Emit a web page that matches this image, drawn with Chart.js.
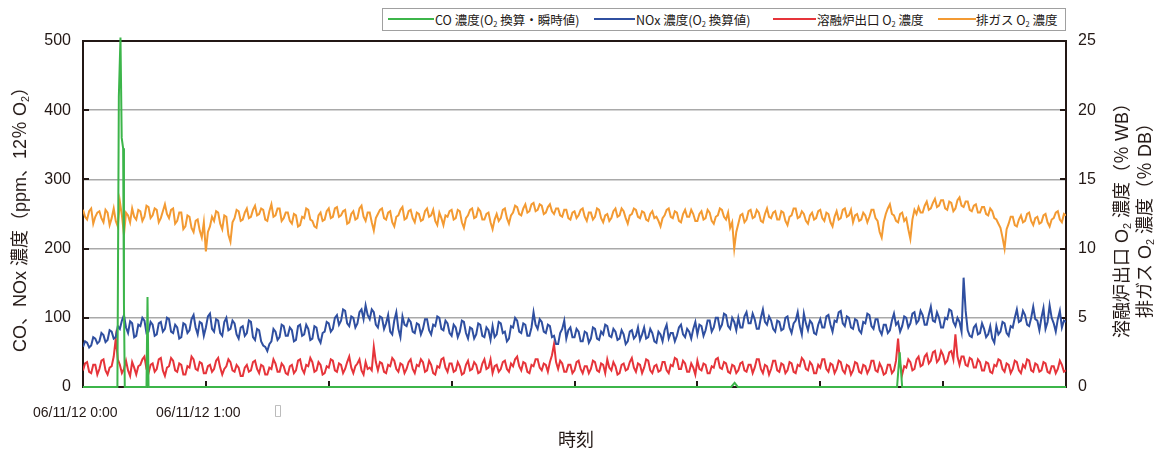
<!DOCTYPE html>
<html lang="ja">
<head>
<meta charset="utf-8">
<title>CO・NOx 濃度と O2 濃度の推移</title>
<script src="https://cdn.jsdelivr.net/npm/chart.js@4.4.1/dist/chart.umd.min.js"></script>
<style>
body{margin:0;background:#fff;}
#wrap{position:relative;width:1161px;height:453px;font-family:"Liberation Sans","Noto Sans CJK JP",sans-serif;color:#231815;}
#wrap canvas{position:absolute;left:0;top:0;}
.lbl{position:absolute;white-space:nowrap;line-height:1;}
.rot{transform:translate(-50%,-50%) rotate(-90deg);text-align:center;}
#legend{position:absolute;left:382px;top:8px;width:684px;height:23px;border:1px solid #a0a0a0;box-sizing:border-box;font-family:"Noto Sans CJK JP",sans-serif;font-size:12.5px;background:#fff;}
#legend span.ln{position:absolute;top:9px;height:2px;}
#legend span.tx{position:absolute;top:1px;line-height:19px;white-space:nowrap;}
sub{font-size:0.6em;vertical-align:-0.25em;line-height:0;}
</style>
</head>
<body>
<div id="wrap">
  <canvas id="chart" width="1161" height="453"></canvas>
  <div id="legend">
    <span class="ln" style="left:5px;width:46px;background:#3cb54a"></span><span class="tx" style="left:52px">CO 濃度(O<sub>2</sub> 換算・瞬時値)</span>
    <span class="ln" style="left:211px;width:41px;background:#2f4fa0"></span><span class="tx" style="left:253px">NOx 濃度(O<sub>2</sub> 換算値)</span>
    <span class="ln" style="left:390px;width:43px;background:#e6343a"></span><span class="tx" style="left:434px">溶融炉出口 O<sub>2</sub> 濃度</span>
    <span class="ln" style="left:555px;width:38px;background:#f39a32"></span><span class="tx" style="left:593px">排ガス O<sub>2</sub> 濃度</span>
  </div>
  <div class="lbl rot" style="left:20px;top:215px;font-size:18px">CO、NOx 濃度（ppm、12％ O<sub>2</sub>）</div>
  <div class="lbl rot" style="left:1134px;top:216px;font-size:18px;line-height:23px">溶融炉出口 O<sub>2</sub> 濃度（％ WB）<br>排ガス O<sub>2</sub> 濃度（％ DB）</div>
  <div class="lbl" style="left:33px;top:405px;font-size:14px">06/11/12 0:00</div>
  <div class="lbl" style="left:156px;top:405px;font-size:14px">06/11/12 1:00</div>
  <div class="lbl" style="left:274px;top:403px;font-size:15px;color:#b0b0b0;font-family:'DejaVu Sans'">▯</div>
  <div class="lbl" style="left:558px;top:429px;font-size:18px;font-family:'Noto Sans CJK JP'">時刻</div>
</div>
<script>
// logged every minute, 0:00 - 8:00
const SAMPLE_STEP = 1;

// CO (O2 換算・瞬時値), ppm - mostly zero with a few spikes
const coTimes  = [0, 16.8, 17.5, 18.3, 18.9, 19.6, 20.0, 20.4, 31.0, 31.5, 32.0, 316.5, 318.2, 319.8, 397.5, 398.8, 400.0, 480];
const coValues = [0, 0, 420, 505, 360, 345, 120, 0, 0, 130, 0, 0, 6, 0, 0, 50, 0, 0];

// NOx (O2 換算値), ppm
const noxValues = [
  58, 66, 64, 57, 60, 72, 70, 63, 66, 78, 75, 65, 68, 82, 80, 70, 72, 88, 84, 96,
  104, 86, 78, 95, 92, 72, 74, 90, 88, 100, 96, 78, 80, 94, 90, 74, 76, 92, 94, 80,
  84, 100, 98, 80, 78, 90, 86, 70, 72, 92, 90, 78, 82, 98, 104, 86, 76, 94, 92, 74,
  86, 102, 106, 84, 80, 98, 96, 78, 74, 94, 100, 82, 84, 96, 92, 76, 70, 86, 88, 74,
  78, 96, 94, 72, 68, 84, 82, 66, 60, 58, 52, 62, 66, 84, 80, 68, 72, 90, 88, 74,
  74, 86, 82, 66, 68, 88, 90, 74, 76, 90, 84, 68, 70, 88, 86, 70, 64, 78, 80, 94,
  92, 80, 84, 100, 104, 90, 96, 112, 110, 92, 88, 102, 100, 86, 92, 108, 112, 98, 118, 104,
  98, 112, 108, 90, 86, 102, 100, 84, 92, 104, 80, 76, 96, 108, 84, 72, 102, 90, 88, 98,
  94, 80, 78, 92, 90, 76, 84, 98, 98, 82, 76, 90, 88, 102, 100, 84, 82, 96, 92, 78,
  74, 90, 86, 72, 80, 96, 94, 78, 70, 86, 84, 70, 76, 92, 90, 74, 72, 86, 82, 68,
  88, 72, 76, 94, 92, 78, 80, 66, 70, 88, 86, 100, 96, 80, 78, 92, 90, 74, 74, 86,
  108, 90, 84, 98, 94, 80, 78, 90, 88, 72, 74, 62, 62, 78, 84, 96, 70, 82, 86, 72,
  72, 84, 80, 66, 66, 80, 78, 64, 70, 86, 84, 70, 68, 80, 76, 90, 88, 74, 72, 84,
  80, 68, 70, 82, 76, 62, 66, 80, 82, 70, 74, 86, 68, 76, 86, 70, 72, 84, 78, 66,
  64, 80, 76, 66, 82, 90, 70, 78, 78, 66, 74, 86, 90, 76, 72, 84, 80, 70, 84, 94,
  76, 90, 88, 74, 82, 96, 96, 80, 86, 100, 100, 84, 90, 106, 104, 88, 84, 100, 94, 82,
  100, 86, 86, 102, 108, 92, 92, 106, 98, 84, 84, 100, 112, 94, 90, 102, 96, 84, 80, 96,
  94, 82, 84, 100, 102, 86, 78, 92, 96, 108, 88, 76, 106, 92, 82, 96, 92, 78, 76, 90,
  98, 86, 86, 102, 104, 90, 80, 96, 94, 108, 110, 92, 88, 102, 100, 86, 84, 98, 96, 82,
  78, 94, 92, 106, 104, 88, 84, 98, 98, 82, 76, 90, 90, 78, 82, 96, 106, 90, 94, 80,
  88, 102, 100, 86, 92, 106, 108, 92, 96, 110, 104, 90, 90, 104, 116, 96, 94, 108, 100, 86,
  86, 100, 98, 112, 110, 94, 88, 100, 94, 80, 158, 110, 82, 74, 72, 86, 90, 76, 78, 92,
  84, 72, 76, 88, 70, 64, 88, 76, 80, 94, 92, 78, 74, 88, 86, 100, 112, 94, 96, 110,
  104, 90, 88, 100, 116, 98, 96, 82, 100, 114, 84, 94, 118, 100, 92, 80, 98, 110, 86, 96,
  94
];

// 溶融炉出口 O2 濃度, % WB
const furnaceO2 = [
  1.2, 1.7, 1.8, 1.1, 1.0, 1.6, 1.6, 0.9, 1.3, 1.9, 2.0, 1.2, 0.9, 1.4, 1.5, 2.2, 3.5, 2.0, 1.6, 1.0,
  1.3, 1.9, 1.2, 0.8, 1.8, 1.4, 0.9, 1.5, 1.6, 2.0, 2.2, 1.3, 1.0, 1.6, 1.7, 1.1, 1.3, 2.0, 2.1, 1.2,
  0.8, 1.4, 1.5, 2.1, 1.9, 1.2, 1.1, 1.7, 1.6, 0.9, 0.9, 1.5, 1.4, 2.2, 2.0, 1.3, 1.2, 1.8, 1.7, 1.0,
  1.0, 1.5, 1.6, 1.1, 1.3, 1.9, 2.1, 1.4, 0.9, 1.3, 1.5, 2.0, 1.8, 1.2, 1.1, 1.6, 1.4, 0.8, 0.8, 1.4,
  1.6, 1.1, 1.2, 1.8, 1.9, 1.3, 1.0, 1.6, 1.5, 0.9, 0.9, 1.4, 1.3, 2.0, 1.7, 1.1, 1.1, 1.7, 1.5, 1.0,
  0.9, 1.5, 1.6, 1.0, 1.2, 1.9, 2.0, 1.3, 1.0, 1.6, 1.5, 2.1, 1.8, 1.1, 1.2, 1.8, 1.6, 0.9, 1.0, 1.5,
  1.4, 2.0, 1.9, 1.2, 1.1, 1.7, 1.6, 1.0, 1.3, 1.8, 2.2, 1.4, 1.0, 1.5, 1.7, 2.0, 1.2, 0.9, 1.8, 1.3,
  1.4, 1.2, 2.9, 1.8, 1.2, 1.8, 1.7, 1.1, 1.0, 1.6, 1.5, 2.1, 1.9, 1.3, 1.1, 1.7, 1.6, 1.0, 1.3, 1.8,
  2.0, 1.3, 1.0, 1.6, 1.5, 2.0, 1.8, 1.1, 1.2, 1.9, 1.6, 1.0, 0.9, 1.5, 1.4, 2.0, 2.1, 1.4, 1.1, 1.7,
  1.7, 1.1, 1.2, 1.8, 1.5, 0.9, 1.0, 1.6, 1.9, 1.2, 1.3, 1.8, 1.6, 1.0, 1.1, 1.7, 2.0, 1.3, 1.4, 2.0,
  1.0, 1.5, 1.6, 1.1, 1.3, 1.8, 1.9, 1.3, 1.1, 1.7, 1.5, 2.0, 2.2, 1.5, 1.2, 1.8, 1.7, 1.1, 1.0, 1.6,
  1.5, 2.0, 2.0, 1.4, 1.2, 1.7, 1.6, 1.1, 1.8, 2.3, 3.1, 1.8, 1.3, 1.9, 1.7, 1.1, 1.1, 1.6, 1.6, 1.0,
  1.2, 1.8, 1.9, 1.3, 1.0, 1.5, 1.5, 1.0, 1.3, 1.9, 1.8, 1.2, 1.1, 1.7, 1.6, 1.0, 2.0, 1.4, 1.2, 1.8,
  1.5, 0.9, 1.0, 1.6, 1.7, 1.2, 1.3, 1.8, 2.1, 1.4, 1.1, 1.7, 1.6, 1.0, 1.4, 2.0, 1.9, 1.2, 1.0, 1.5,
  1.6, 1.1, 1.2, 1.8, 1.8, 1.2, 1.0, 1.6, 1.5, 2.1, 2.0, 1.3, 1.3, 1.9, 1.7, 1.1, 1.1, 1.7, 1.4, 0.9,
  1.9, 1.3, 1.2, 1.7, 1.6, 1.0, 1.0, 1.5, 1.4, 2.0, 2.1, 1.4, 1.3, 1.8, 1.7, 1.1, 1.0, 1.6, 1.5, 1.0,
  1.2, 1.7, 1.8, 1.2, 1.1, 1.6, 1.6, 1.0, 1.4, 2.0, 2.0, 1.3, 1.0, 1.6, 1.5, 0.9, 1.3, 1.9, 1.9, 1.2,
  1.1, 1.7, 1.6, 1.0, 1.2, 1.8, 1.7, 1.1, 1.0, 1.6, 1.5, 2.1, 1.9, 1.3, 1.2, 1.8, 1.6, 1.0, 1.0, 1.6,
  1.4, 2.0, 2.0, 1.3, 1.1, 1.7, 1.6, 1.0, 1.3, 1.9, 1.8, 1.2, 1.0, 1.6, 1.5, 0.9, 1.2, 1.8, 1.7, 1.1,
  1.0, 1.6, 1.5, 1.0, 1.3, 1.9, 1.9, 1.2, 1.1, 1.7, 1.4, 0.9, 1.0, 1.6, 1.6, 1.0, 1.2, 1.9, 3.5, 1.6,
  0.9, 1.5, 1.4, 2.0, 1.8, 1.2, 1.3, 2.0, 2.2, 1.5, 1.6, 2.2, 2.4, 1.7, 1.9, 2.5, 2.6, 1.8, 2.0, 2.6,
  2.3, 1.7, 1.9, 2.5, 2.6, 2.0, 3.8, 2.2, 1.6, 2.2, 2.2, 1.6, 1.5, 2.1, 2.0, 1.4, 1.4, 2.0, 1.8, 1.2,
  1.2, 1.8, 1.7, 1.1, 1.0, 1.6, 1.5, 2.0, 1.9, 1.3, 1.1, 1.7, 1.6, 1.0, 1.3, 1.9, 1.8, 1.2, 1.0, 1.6,
  1.4, 2.0, 1.9, 1.2, 1.1, 1.7, 1.6, 1.1, 1.2, 1.8, 1.7, 1.1, 1.0, 1.5, 1.5, 1.0, 1.3, 1.9, 1.6, 1.1,
  1.2
];

// 排ガス O2 濃度, % DB
const exhaustO2 = [
  12.8, 12.3, 12.1, 12.7, 12.9, 11.8, 12.3, 12.6, 12.7, 12.2, 11.9, 12.8, 12.6, 11.7, 12.2, 12.9, 12.0, 11.6, 13.4, 12.4,
  11.0, 12.6, 12.4, 11.9, 12.9, 12.3, 12.1, 12.8, 12.7, 12.0, 12.3, 13.1, 13.0, 12.2, 12.4, 12.9, 12.8, 11.9, 12.2, 12.7,
  13.2, 12.5, 12.2, 12.8, 12.9, 11.8, 12.0, 12.6, 12.6, 11.4, 11.6, 12.4, 12.3, 11.5, 11.2, 12.0, 12.1, 11.3, 10.8, 11.9,
  9.8, 11.2, 11.6, 12.3, 12.0, 12.7, 12.6, 11.8, 11.4, 12.4, 12.3, 11.0, 10.5, 11.9, 12.2, 12.8, 12.7, 12.0, 12.1, 12.6,
  12.9, 12.2, 12.3, 12.8, 13.1, 12.4, 12.5, 12.9, 12.8, 12.1, 12.0, 12.7, 13.2, 12.3, 12.4, 12.9, 12.9, 12.0, 12.2, 12.6,
  12.6, 12.0, 11.8, 12.5, 12.4, 11.6, 11.7, 12.3, 12.2, 12.9, 12.8, 12.1, 12.0, 11.6, 11.5, 12.4, 12.6, 12.0, 12.1, 12.7,
  12.9, 12.2, 12.3, 12.9, 13.0, 12.3, 12.4, 12.7, 12.8, 11.8, 11.9, 12.5, 12.7, 12.1, 12.2, 12.9, 13.1, 12.3, 12.0, 12.6,
  12.6, 11.9, 11.3, 12.2, 12.5, 12.8, 12.9, 12.2, 12.1, 12.6, 12.7, 11.9, 11.6, 12.3, 12.4, 12.8, 13.0, 12.1, 12.2, 12.7,
  12.8, 12.2, 11.9, 12.6, 12.5, 12.0, 12.1, 12.7, 12.9, 12.3, 12.4, 12.8, 12.0, 11.7, 12.6, 12.2, 11.7, 12.4, 12.3, 12.7,
  12.8, 12.1, 12.2, 12.8, 12.7, 11.9, 11.5, 12.2, 12.4, 12.8, 12.9, 12.2, 12.3, 12.9, 12.7, 12.1, 12.1, 12.5, 12.6, 11.9,
  11.4, 12.1, 12.5, 12.0, 12.2, 12.8, 12.9, 12.2, 11.8, 12.4, 12.6, 13.1, 13.0, 12.5, 12.4, 12.9, 13.2, 12.6, 12.7, 13.2,
  13.3, 12.7, 12.8, 13.2, 13.1, 12.5, 12.6, 13.0, 13.2, 12.7, 12.5, 12.9, 12.9, 12.4, 12.3, 12.8, 12.8, 12.2, 12.1, 12.6,
  12.7, 12.2, 12.4, 12.8, 12.9, 12.3, 12.0, 12.6, 12.6, 12.1, 12.3, 12.9, 12.8, 12.2, 11.9, 12.4, 12.5, 12.0, 12.2, 12.7,
  12.9, 12.3, 12.4, 12.9, 12.7, 12.2, 11.8, 12.4, 12.5, 12.9, 12.8, 12.3, 12.2, 12.7, 12.6, 12.1, 12.0, 12.5, 12.7, 12.2,
  12.3, 12.0, 11.6, 12.2, 12.4, 12.8, 12.9, 12.3, 12.2, 12.7, 12.6, 12.0, 11.9, 12.5, 12.8, 12.3, 12.3, 12.8, 12.5, 12.0,
  12.0, 12.5, 12.7, 12.1, 12.2, 12.8, 12.6, 12.0, 11.8, 12.3, 12.4, 12.9, 12.8, 12.3, 12.1, 12.6, 11.5, 11.9, 10.0, 11.2,
  11.8, 12.4, 12.5, 11.9, 12.1, 12.7, 12.8, 12.2, 12.3, 12.8, 12.6, 12.0, 11.9, 12.5, 12.9, 12.3, 12.2, 12.6, 12.7, 12.1,
  12.1, 12.7, 12.6, 12.0, 11.7, 12.3, 12.4, 12.9, 12.9, 12.2, 12.3, 12.7, 12.5, 12.0, 11.8, 12.4, 12.6, 12.1, 12.2, 12.7,
  12.8, 12.2, 12.0, 12.6, 12.5, 11.9, 11.6, 12.3, 12.7, 12.1, 12.2, 12.8, 12.9, 12.3, 12.4, 12.8, 11.9, 12.4, 12.5, 12.0,
  12.1, 12.6, 12.4, 11.9, 12.3, 12.8, 12.8, 12.2, 12.0, 11.2, 10.8, 11.9, 12.5, 12.9, 13.2, 12.5, 12.4, 12.0, 11.9, 12.5,
  12.6, 12.0, 12.2, 11.4, 10.7, 12.1, 12.8, 12.5, 13.0, 12.6, 12.6, 13.1, 13.4, 12.8, 12.9, 13.3, 13.6, 13.0, 13.1, 13.5,
  13.5, 12.9, 12.8, 13.4, 13.3, 12.7, 12.9, 13.5, 13.7, 13.1, 13.0, 13.4, 13.4, 12.8, 12.7, 13.1, 13.2, 12.6, 12.6, 13.0,
  13.0, 12.5, 12.4, 12.9, 12.7, 12.2, 12.1, 11.8, 11.5, 10.8, 10.0, 11.4, 11.8, 12.3, 12.3, 11.7, 11.6, 12.1, 12.4, 11.9,
  12.0, 12.5, 12.6, 12.0, 11.7, 12.2, 12.3, 11.8, 11.9, 12.4, 12.5, 11.9, 11.6, 12.1, 12.2, 12.6, 12.7, 12.1, 11.9, 12.5,
  12.4
];

const hourTicks = [60, 120, 180, 240, 300, 360, 420];
const leftTicks = [100, 200, 300, 400];
const rightTicks = [5, 10, 15, 20];

const toXY = (vals) => vals.map((v, i) => ({x: i * SAMPLE_STEP, y: v}));

// inward tick marks and black frame round the plot
const frame = {
  id: 'frame',
  beforeDatasetsDraw(chart) {
    const {ctx, chartArea: a, scales} = chart;
    ctx.save();
    ctx.strokeStyle = '#231815';
    ctx.lineWidth = 2;
    ctx.beginPath();
    hourTicks.forEach(v => {
      const px = Math.round(scales.x.getPixelForValue(v));
      ctx.moveTo(px, a.bottom); ctx.lineTo(px, a.bottom - 6);
    });
    leftTicks.forEach(v => {
      const py = Math.round(scales.y.getPixelForValue(v));
      ctx.moveTo(a.left, py); ctx.lineTo(a.left + 6, py);
    });
    rightTicks.forEach(v => {
      const py = Math.round(scales.y2.getPixelForValue(v));
      ctx.moveTo(a.right, py); ctx.lineTo(a.right - 6, py);
    });
    ctx.stroke();
    ctx.strokeRect(a.left, a.top, a.right - a.left, a.bottom - a.top);
    ctx.restore();
  }
};

const tickFont = {family: '"Liberation Sans", Arial, sans-serif', size: 16};

new Chart(document.getElementById('chart'), {
  type: 'line',
  data: {
    datasets: [
      {label: 'CO 濃度(O2 換算・瞬時値)', data: coTimes.map((t, i) => ({x: t, y: coValues[i]})), yAxisID: 'y', borderColor: '#3cb54a', borderWidth: 2, clip: false},
      {label: 'NOx 濃度(O2 換算値)', data: toXY(noxValues), yAxisID: 'y', borderColor: '#2f4fa0', borderWidth: 2},
      {label: '溶融炉出口 O2 濃度', data: toXY(furnaceO2), yAxisID: 'y2', borderColor: '#e6343a', borderWidth: 2},
      {label: '排ガス O2 濃度', data: toXY(exhaustO2), yAxisID: 'y2', borderColor: '#f39a32', borderWidth: 2}
    ]
  },
  options: {
    responsive: false,
    animation: false,
    events: [],
    elements: {point: {radius: 0}, line: {tension: 0}},
    layout: {padding: {top: 41, left: 0, right: 0, bottom: 0}},
    plugins: {legend: {display: false}, tooltip: {enabled: false}},
    scales: {
      x: {
        type: 'linear', min: 0, max: 480,
        ticks: {display: false},
        grid: {display: false},
        border: {display: false},
        afterFit: s => { s.height = 66; }
      },
      y: {
        position: 'left', min: 0, max: 500,
        ticks: {stepSize: 100, padding: 12, color: '#231815', font: tickFont},
        grid: {drawTicks: false, lineWidth: 1.5, color: c => (c.tick.value > 0 && c.tick.value < 500) ? '#a9a9a9' : 'rgba(0,0,0,0)'},
        border: {display: false},
        afterFit: s => { s.width = 83; }
      },
      y2: {
        position: 'right', min: 0, max: 25,
        ticks: {stepSize: 5, padding: 12, color: '#231815', font: tickFont},
        grid: {drawOnChartArea: false, drawTicks: false},
        border: {display: false},
        afterFit: s => { s.width = 95; }
      }
    }
  },
  plugins: [frame]
});
</script>
</body>
</html>
